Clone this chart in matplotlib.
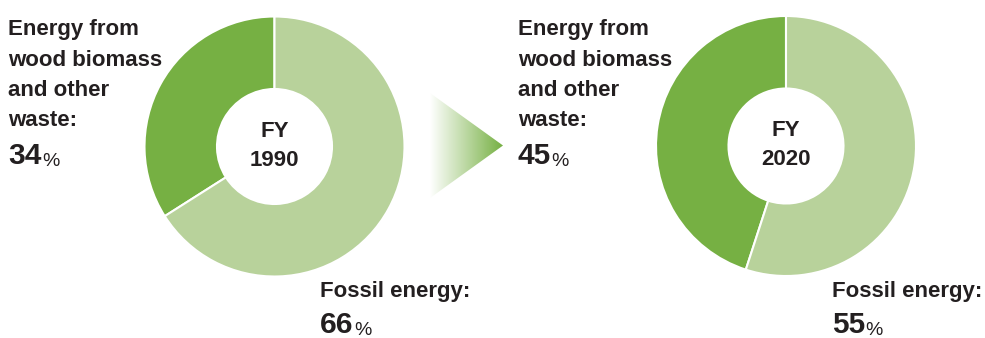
import numpy as np
import matplotlib
matplotlib.use('Agg')
import matplotlib.pyplot as plt

plt.rcParams['font.family'] = ['Liberation Sans', 'DejaVu Sans']

# data
years = ['1990', '2020']
biomass = [34, 45]
fossil = [66, 55]
biomass_lines = ['Energy from', 'wood biomass', 'and other', 'waste:']
fossil_label = 'Fossil energy:'

dark_green = '#76b043'
light_green = '#b8d29b'
txt_col = '#231f20'

W, H = 985, 338
fig = plt.figure(figsize=(W / 100, H / 100), dpi=100)
ax = fig.add_axes([0, 0, 1, 1])

R = 130
hole = 57.5
centers = [(274.5, H - 146.5), (786, H - 146)]
label_x = [8, 518]
fossil_x = [320, 832]
line_base = [35, 65.5, 96, 126.5]


def value_text(x, y, val):
    t = ax.text(x, y, str(val), ha='left', va='baseline', fontsize=21.5,
                fontweight='bold', color=txt_col)
    ax.annotate('%', xy=(1, 0), xycoords=t, xytext=(0.3, 0),
                textcoords='offset points', ha='left', va='bottom',
                fontsize=14, color=txt_col)


for i in range(2):
    cx, cy = centers[i]
    ax.pie([biomass[i], fossil[i]], colors=[dark_green, light_green],
           startangle=90, counterclock=True, center=(cx, cy), radius=R,
           wedgeprops=dict(width=R - hole, edgecolor='white', linewidth=1.5),
           frame=True)
    ax.text(cx, cy + 15, 'FY', ha='center', va='center', fontsize=16,
            fontweight='bold', color=txt_col)
    ax.text(cx, cy - 13.5, years[i], ha='center', va='center', fontsize=16,
            fontweight='bold', color=txt_col)

    for yb, line in zip(line_base, biomass_lines):
        ax.text(label_x[i], H - yb, line, ha='left', va='baseline',
                fontsize=16, fontweight='bold', color=txt_col)
    value_text(label_x[i], H - 164, biomass[i])

    ax.text(fossil_x[i], H - 297, fossil_label, ha='left', va='baseline',
            fontsize=16, fontweight='bold', color=txt_col)
    value_text(fossil_x[i], H - 333, fossil[i])

ax.set_xlim(0, W)
ax.set_ylim(0, H)
ax.set_aspect('equal')
ax.axis('off')

# gradient arrow between the donuts
x0, x1 = 430, 503
ytop, ybot, ytip = H - 93, H - 198, H - 145.5
grad = np.linspace(0, 1, 256).reshape(1, -1)
cmap = matplotlib.colors.LinearSegmentedColormap.from_list('g', ['#ffffff', dark_green])
im = ax.imshow(grad, cmap=cmap, extent=[x0, x1, ybot, ytop], aspect='auto', zorder=1)
tri = plt.Polygon([[x0, ytop], [x1, ytip], [x0, ybot]], closed=True,
                  transform=ax.transData, facecolor='none', edgecolor='none')
ax.add_patch(tri)
im.set_clip_path(tri)
ax.set_xlim(0, W)
ax.set_ylim(0, H)

fig.savefig('out.png', dpi=100)
